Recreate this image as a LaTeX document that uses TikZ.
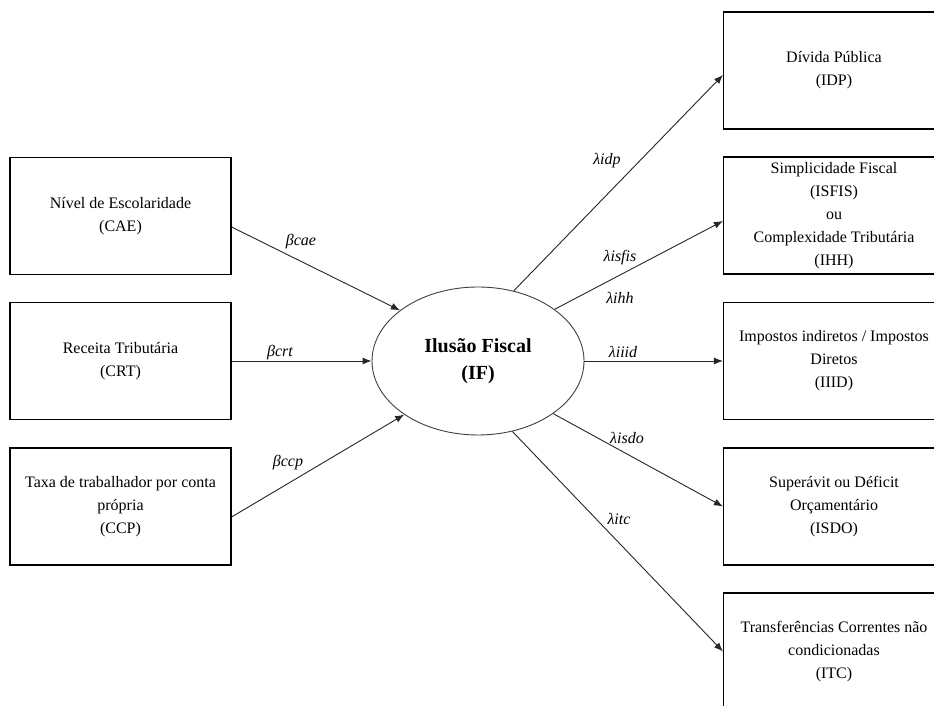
\documentclass[tikz,border=0pt]{standalone}
\usepackage{fontspec}
\setmainfont{Liberation Serif}
\usetikzlibrary{shapes.geometric,arrows.meta}
\begin{document}
\begin{tikzpicture}[x=1pt,y=1pt,
 box/.style={draw=black, line width=1.1pt, minimum width=221pt, minimum height=117pt, inner sep=0pt, align=center, font=\fontsize{16}{23}\selectfont},
 lat/.style={ellipse, draw=black!75, line width=0.9pt, minimum width=212pt, minimum height=148pt, inner sep=0pt, align=center, font=\fontsize{20}{27}\selectfont\bfseries},
 conn/.style={draw=black!85, line width=0.9pt, -{Latex[length=9pt,width=7pt]}},
 coef/.style={font=\fontsize{16}{16}\selectfont\itshape, inner sep=0pt}]
\useasboundingbox (0,0) rectangle (934,706);
\fill[white] (0,0) rectangle (934,706);

\node[box] (CAE) at (120.5,490) {Nível de Escolaridade\\(CAE)};
\node[box] (CRT) at (120.5,345) {Receita Tributária\\(CRT)};
\node[box] (CCP) at (120.5,199.5) {Taxa de trabalhador por conta\\própria\\(CCP)};

\node[lat] (IF) at (478,345) {Ilusão Fiscal\\(IF)};

\node[box] (IDP) at (834,635.5) {Dívida Pública\\(IDP)};
\node[box] (ISFIS) at (834,490.5) {Simplicidade Fiscal\\(ISFIS)\\ou\\Complexidade Tributária\\(IHH)};
\node[box] (IIID) at (834,345) {Impostos indiretos / Impostos\\Diretos\\(IIID)};
\node[box] (ISDO) at (834,199.5) {Superávit ou Déficit\\Orçamentário\\(ISDO)};
\node[box] (ITC) at (834,54.5) {Transferências Correntes não\\condicionadas\\(ITC)};

\draw[conn] ([yshift=-11pt]CAE.east) -- (IF.147);
\draw[conn] (CRT.east) -- (IF.west);
\draw[conn] ([yshift=-10.5pt]CCP.east) -- (IF.216);
\draw[conn] (IF.63) -- ([yshift=-4.5pt]IDP.west);
\draw[conn] (IF.34) -- ([yshift=-5.5pt]ISFIS.west);
\draw[conn] (IF.east) -- (IIID.west);
\draw[conn] (IF.-35) -- (ISDO.west);
\draw[conn] (IF.-64) -- (ITC.west);

\node[coef] (lcae) at (301,464) {βcae};
\node[coef] (lcrt) at (280,353) {βcrt};
\node[coef] (lccp) at (288,243) {βccp};
\node[coef] (lidp) at (607,545) {λidp};
\node[coef] (lisfis) at (620,448) {λisfis};
\node[coef] (lihh) at (620,408) {λihh};
\node[coef] (liiid) at (623,354) {λiiid};
\node[coef] (lisdo) at (627,268) {λisdo};
\node[coef] (litc) at (619,187) {λitc};
\end{tikzpicture}
\end{document}
